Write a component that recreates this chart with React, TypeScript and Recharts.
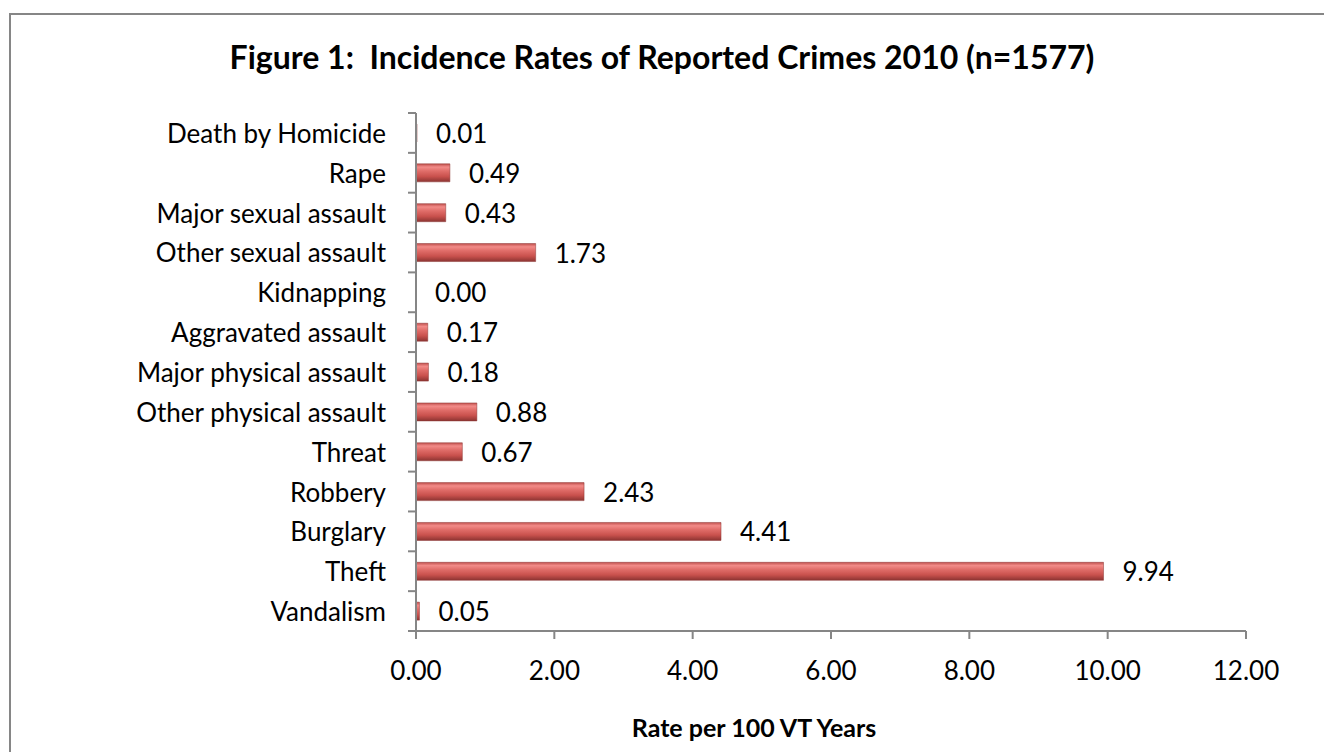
import { BarChart, Bar, XAxis, YAxis, LabelList, Cell } from 'recharts';

const crimes = [
  'Death by Homicide',
  'Rape',
  'Major sexual assault',
  'Other sexual assault',
  'Kidnapping',
  'Aggravated assault',
  'Major physical assault',
  'Other physical assault',
  'Threat',
  'Robbery',
  'Burglary',
  'Theft',
  'Vandalism',
];
const rates = [0.01, 0.49, 0.43, 1.73, 0.0, 0.17, 0.18, 0.88, 0.67, 2.43, 4.41, 9.94, 0.05];
const xTicks = [0, 2, 4, 6, 8, 10, 12];

const data = crimes.map((name, i) => ({ name, rate: rates[i] }));

const W = 1324;
const H = 752;
const TOP = 113;
const AXIS_Y = 631;
const AXIS_X = 416;
const RIGHT_X = 1246;
const XAXIS_H = 30;
const band = (AXIS_Y - TOP) / crimes.length;
const font = 'Lato, "Open Sans", sans-serif';
const axisColor = '#868686';

function CategoryTick(props: any) {
  const { y, payload, index } = props;
  const last = index === crimes.length - 1;
  return (
    <g>
      <line x1={AXIS_X - 8} x2={AXIS_X} y1={y - band / 2} y2={y - band / 2} stroke={axisColor} strokeWidth={2} />
      {last && (
        <line x1={AXIS_X - 8} x2={AXIS_X} y1={y + band / 2} y2={y + band / 2} stroke={axisColor} strokeWidth={2} />
      )}
      <text x={AXIS_X - 30} y={y} textAnchor="end" dominantBaseline="central" fontSize={26} fill="#000" fontFamily={font}>
        {payload.value}
      </text>
    </g>
  );
}

function ValueLabel(props: any) {
  const { x, y, width, height, value } = props;
  const w = Number(value) === 0 ? 0 : Number(width || 0);
  return (
    <text
      x={Number(x) + w + 19}
      y={Number(y) + Number(height) / 2}
      dominantBaseline="central"
      fontSize={26}
      fill="#000"
      fontFamily={font}
    >
      {Number(value).toFixed(2)}
    </text>
  );
}

export default function App() {
  return (
    <div style={{ position: 'absolute', left: 0, top: 0, width: W, height: H, background: '#fff', overflow: 'hidden' }}>
      <div
        style={{
          position: 'absolute',
          left: 9,
          top: 13,
          width: 1340,
          height: 780,
          border: `2px solid ${axisColor}`,
          boxSizing: 'border-box',
        }}
      />
      <svg width={W} height={H} style={{ position: 'absolute', left: 0, top: 0 }}>
        <text x={662} y={69} textAnchor="middle" fontFamily={font} fontWeight={700} fontSize={32} fill="#000">
          Figure 1:&#160; Incidence Rates of Reported Crimes 2010 (n=1577)
        </text>
        <text x={754} y={737} textAnchor="middle" fontFamily={font} fontWeight={700} fontSize={25} fill="#000">
          Rate per 100 VT Years
        </text>
      </svg>
      <BarChart
        width={W}
        height={H}
        data={data}
        layout="vertical"
        margin={{ top: TOP, right: W - RIGHT_X, bottom: H - AXIS_Y - XAXIS_H, left: 0 }}
        barSize={18}
        style={{ position: 'absolute', left: 0, top: 0 }}
      >
        <defs>
          <linearGradient id="barFill" x1="0" y1="0" x2="0" y2="1">
            <stop offset="0%" stopColor="#c0504d" />
            <stop offset="18%" stopColor="#f28b88" />
            <stop offset="40%" stopColor="#e06d69" />
            <stop offset="70%" stopColor="#c9514d" />
            <stop offset="100%" stopColor="#8c3432" />
          </linearGradient>
        </defs>
        <XAxis
          type="number"
          domain={[0, 12]}
          ticks={xTicks}
          interval={0}
          height={XAXIS_H}
          tickFormatter={(v: number) => v.toFixed(2)}
          stroke={axisColor}
          strokeWidth={2}
          tickSize={8}
          tickMargin={23}
          tick={{ fontSize: 26, fill: '#000', fontFamily: font }}
        />
        <YAxis
          type="category"
          dataKey="name"
          width={AXIS_X}
          interval={0}
          stroke={axisColor}
          strokeWidth={2}
          tickLine={false}
          tick={<CategoryTick />}
        />
        <Bar dataKey="rate" minPointSize={1} isAnimationActive={false}>
          {data.map((d) => (
            <Cell
              key={d.name}
              fill={d.rate === 0 ? 'transparent' : 'url(#barFill)'}
              stroke={d.rate === 0 ? 'none' : '#8c3432'}
              strokeWidth={0.5}
            />
          ))}
          <LabelList dataKey="rate" content={<ValueLabel />} />
        </Bar>
      </BarChart>
    </div>
  );
}
